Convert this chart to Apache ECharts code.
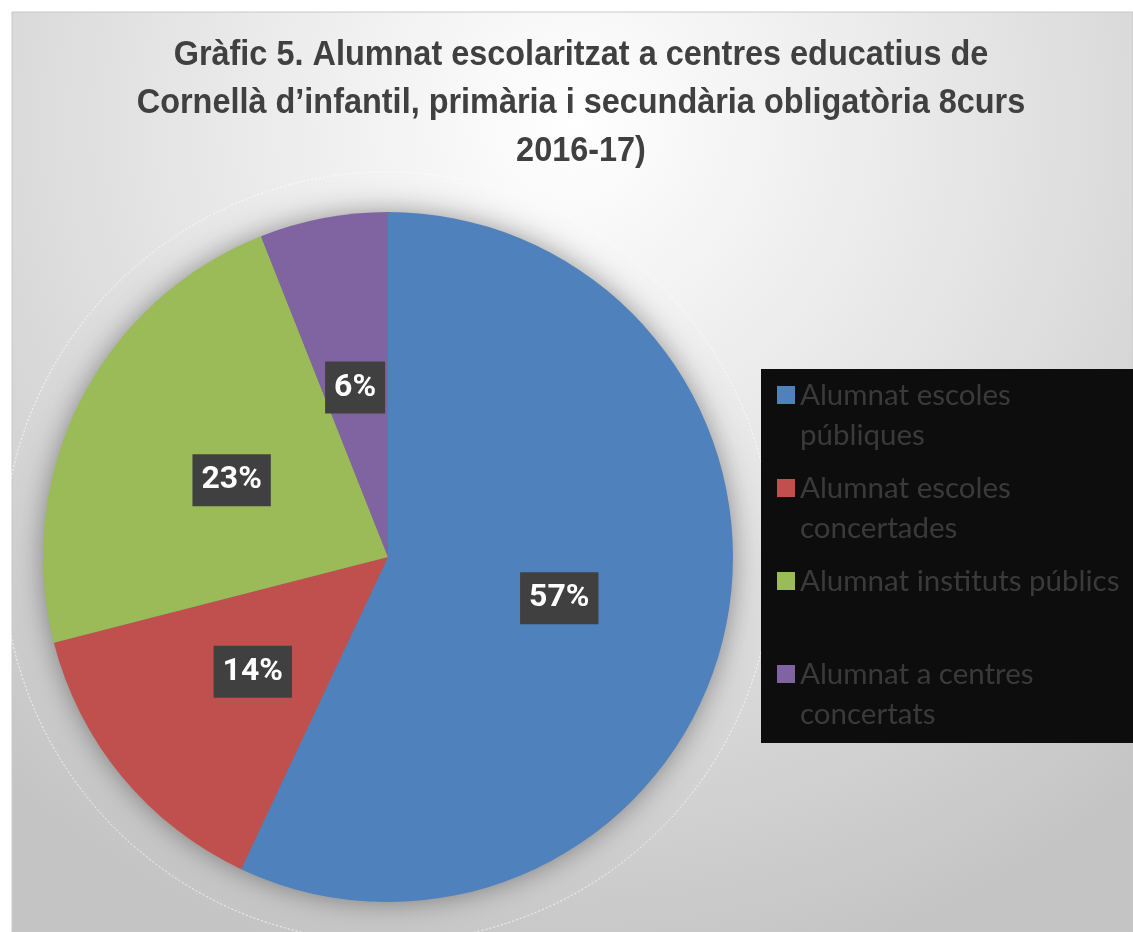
<!DOCTYPE html>
<html>
<head>
<meta charset="utf-8">
<script src="https://cdn.jsdelivr.net/npm/echarts@6/dist/echarts.min.js"></script>
<style>
html,body{margin:0;padding:0;background:#fff;}
#chart{width:1133px;height:932px;}
</style>
</head>
<body>
<div id="chart"></div>
<script>
const titleText = 'Gràfic 5. Alumnat escolaritzat a centres educatius de\nCornellà d’infantil, primària i secundària obligatòria 8curs\n2016-17)';
const categories = ['Alumnat escoles públiques', 'Alumnat escoles concertades', 'Alumnat instituts públics', 'Alumnat a centres concertats'];
const legendLabels = ['Alumnat escoles\npúbliques', 'Alumnat escoles\nconcertades', 'Alumnat instituts públics', 'Alumnat a centres\nconcertats'];
const values = [57, 14, 23, 6];
const colors = ['#4f81bd', '#c0504d', '#9bbb59', '#8064a2'];

const CX = 388, CY = 557, R = 345;
const chart = echarts.init(document.getElementById('chart'), null, {renderer: 'canvas'});

chart.setOption({
  backgroundColor: '#ffffff',
  color: colors,
  animation: false,
  graphic: [
    {
      type: 'rect', z: -10, silent: true,
      shape: {x: 12, y: 12, width: 1121, height: 920},
      style: {
        fill: {
          type: 'radial', x: 0.5, y: 0.12, r: 0.95,
          colorStops: [{offset: 0, color: '#ffffff'}, {offset: 0.45, color: '#e6e6e6'}, {offset: 1, color: '#c4c4c4'}]
        },
        stroke: '#c8c8c8', lineWidth: 1
      }
    },
    {
      type: 'circle', z: -5, silent: true,
      shape: {cx: CX, cy: CY, r: 385},
      style: {fill: 'none', stroke: 'rgba(255,255,255,0.8)', lineWidth: 1, lineDash: [2, 2]}
    },
    {
      type: 'circle', z: -4, silent: true,
      shape: {cx: CX, cy: CY, r: R - 2},
      style: {fill: '#777', shadowBlur: 30, shadowColor: 'rgba(0,0,0,0.45)'}
    },
    {
      type: 'rect', z: -3, silent: true,
      shape: {x: 761, y: 369, width: 380, height: 374},
      style: {fill: '#0d0d0d'}
    },
    {
      type: 'text', z: 10, silent: true,
      x: 581, y: 31, scaleX: 0.94,
      style: {
        x: 0, y: 0,
        text: titleText,
        font: 'bold 34.5px "Liberation Sans", Arial, sans-serif',
        lineHeight: 48,
        fill: '#404040',
        align: 'center',
        verticalAlign: 'top'
      }
    }
  ],
  legend: {
    orient: 'vertical',
    left: 777,
    top: 335,
    padding: 0,
    itemGap: -27,
    itemWidth: 18,
    itemHeight: 18,
    icon: 'rect',
    data: categories,
    formatter: function (name) {
      const t = legendLabels[categories.indexOf(name)];
      return t.indexOf('\n') >= 0 ? '\n' + t : '\n' + t + '\n';
    },
    textStyle: {
      fontFamily: 'Lato',
      fontSize: 29.5,
      lineHeight: 40,
      color: '#3a3a3a'
    }
  },
  series: [{
    type: 'pie',
    center: [CX, CY],
    radius: [0, R],
    startAngle: 90,
    clockwise: true,
    avoidLabelOverlap: false,
    percentPrecision: 0,
    itemStyle: {borderWidth: 0},
    label: {
      show: true,
      position: 'inside',
      formatter: '{d}%',
      fontFamily: 'Roboto',
      fontWeight: 'bold',
      fontSize: 32,
      lineHeight: 36,
      color: '#ffffff',
      backgroundColor: '#404040',
      padding: [9, 9, 7, 9]
    },
    labelLayout: {dy: 3},
    labelLine: {show: false},
    data: categories.map((c, i) => ({name: c, value: values[i]}))
  }]
});
</script>
</body>
</html>
